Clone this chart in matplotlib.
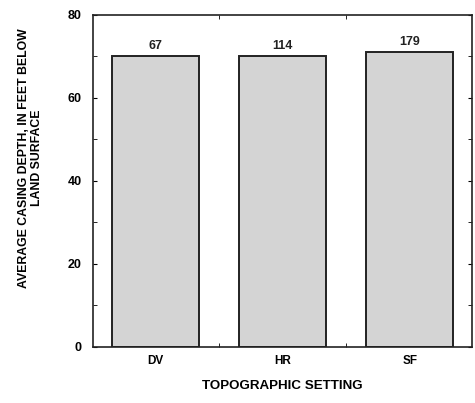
import numpy as np
import matplotlib
matplotlib.use("Agg")
import matplotlib.pyplot as plt
from matplotlib.ticker import MultipleLocator, FixedLocator

# data
settings = ["DV", "HR", "SF"]
depth = [70.0, 70.0, 71.0]
n_wells = ["67", "114", "179"]

plt.rcParams['font.family'] = ['Liberation Sans', 'DejaVu Sans']
plt.rcParams['font.weight'] = 'bold'

fig = plt.figure(figsize=(4.75, 4.03), dpi=100)
ax = fig.add_axes([0.196, 0.139, 0.798, 0.824])

x = np.arange(len(settings))
bars = ax.bar(x, depth, width=0.685, color="#d4d4d4", edgecolor="#222222", linewidth=1.4, zorder=1)
for xi, h, lab in zip(x, depth, n_wells):
    ax.annotate(lab, (xi, h), xytext=(0, 3), textcoords="offset points",
                ha="center", va="bottom", fontsize=9, fontweight="bold", color="#222222")

ax.set_xlim(-0.49, 2.49)
ax.set_ylim(0, 80)
ax.set_xticks(x)
ax.set_xticklabels(settings)
ax.xaxis.set_minor_locator(FixedLocator([0.5, 1.5]))
ax.yaxis.set_major_locator(MultipleLocator(20))
ax.yaxis.set_minor_locator(MultipleLocator(10))
ax.tick_params(axis="x", which="major", length=0, pad=6, labelsize=8.5)
ax.tick_params(axis="x", which="minor", direction="in", length=3, top=True, bottom=True)
ax.tick_params(axis="y", which="both", direction="in", length=3, left=True, right=True, labelsize=9, pad=8)
for s in ax.spines.values():
    s.set_linewidth(1.2)
    s.set_color("#222222")

ax.set_xlabel("TOPOGRAPHIC SETTING", fontsize=9.6, fontweight="bold", labelpad=9)
fig.text(0.064, 0.608, "AVERAGE CASING DEPTH, IN FEET BELOW\nLAND SURFACE", rotation=90,
         ha="center", va="center", multialignment="center", fontsize=8.8, fontweight="bold",
         linespacing=1.15)

fig.savefig("out.png", dpi=100)
